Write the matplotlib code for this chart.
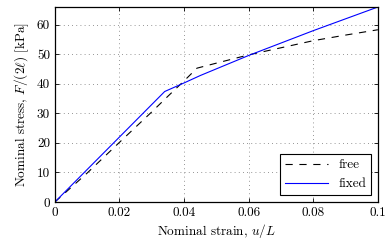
import matplotlib
matplotlib.use("Agg")
import matplotlib.pyplot as plt

plt.rcParams['font.family'] = 'serif'
plt.rcParams['font.serif'] = ['cmr10', 'DejaVu Serif']
plt.rcParams['mathtext.fontset'] = 'cm'
plt.rcParams['axes.formatter.use_mathtext'] = True
plt.rcParams['font.size'] = 9.5

# free boundary
strain_free = [0, 0.01, 0.02, 0.03, 0.035, 0.04, 0.044, 0.05, 0.06, 0.07, 0.08, 0.09, 0.1]
stress_free = [0, 9.8, 20.2, 30.5, 35.8, 41.0, 45.3, 47.0, 49.8, 52.2, 54.6, 56.5, 58.3]

# fixed boundary
strain_fixed = [0, 0.034, 0.04, 0.045, 0.06, 0.08, 0.1]
stress_fixed = [0, 37.4, 40.3, 42.8, 49.6, 58.0, 66.0]

xticks = [0, 0.02, 0.04, 0.06, 0.08, 0.1]
xtick_labels = ['0', '0.02', '0.04', '0.06', '0.08', '0.1']
yticks = [0, 10, 20, 30, 40, 50, 60]

fig = plt.figure(figsize=(3.92, 2.5), dpi=100)
ax = fig.add_axes([0.140, 0.192, 0.824, 0.780])

ax.plot(strain_free, stress_free, color='black', linestyle=(0, (6.5, 6)), linewidth=0.8, label='free')
ax.plot(strain_fixed, stress_fixed, color='blue', linewidth=0.8, label='fixed')

ax.set_xlim(0, 0.1)
ax.set_ylim(0, 66)
ax.set_xticks(xticks)
ax.set_xticklabels(xtick_labels)
ax.set_yticks(yticks)
ax.set_yticklabels([str(v) for v in yticks])
ax.tick_params(direction='in', top=True, right=True, length=3, width=0.6)
ax.grid(True, linestyle=(0, (1, 4)), color='0.45', linewidth=0.6)
for s in ax.spines.values():
    s.set_linewidth(0.9)

ax.set_xlabel('Nominal strain, $u/L$', labelpad=2)
ax.set_ylabel(r'Nominal stress, $F/(2\ell)$ [kPa]', labelpad=4)

leg = ax.legend(loc='lower right', fancybox=False, edgecolor='black', framealpha=1,
                handlelength=3.2, borderaxespad=0.5)
leg.get_frame().set_linewidth(0.8)

fig.savefig('out.png', dpi=100)
